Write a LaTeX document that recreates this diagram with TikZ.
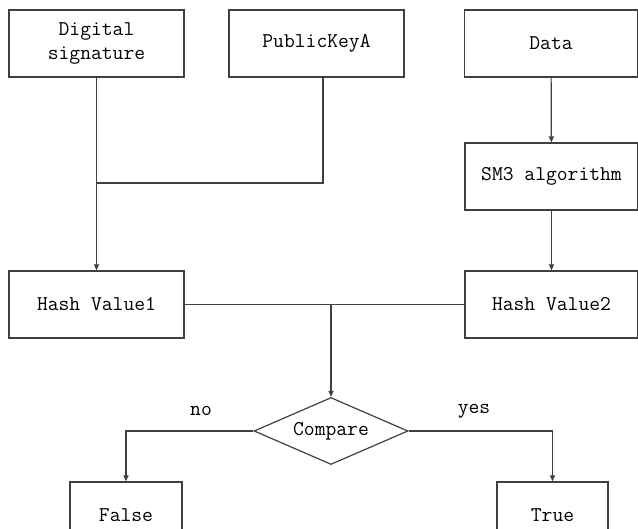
\documentclass[tikz,border=0pt]{standalone}
\usepackage{tikz}
\usetikzlibrary{shapes,arrows.meta}

\begin{document}
\begin{tikzpicture}[x=1pt,y=-1pt]
	\tikzstyle{every node}+=[inner sep=0pt,font=\fontsize{21}{24}\selectfont\ttfamily]
	\tikzstyle{box}=[draw=black!75,line width=1.2pt,minimum width=175pt,minimum height=67pt,align=center]
	\tikzstyle{decide}=[draw=black!75,line width=1.2pt,diamond,aspect=2.3,minimum width=154pt,minimum height=67pt]
	\tikzstyle{link}=[draw=black!75,line width=1.2pt]
	\tikzstyle{arrow}=[link,-{Triangle[length=6pt,width=5pt]}]
	\useasboundingbox (0,0) rectangle (638,529);
	\clip (0,0) rectangle (638,529);
	\node [box] (sig) at (96.5,43.5) {Digital\\signature};
	\node [box] (key) at (316.5,43.5) {PublicKeyA};
	\node [box,minimum width=173pt] (data) at (551,43.5) {Data};
	\node [box,minimum width=173pt] (sm3) at (551.5,176.5) {SM3 algorithm};
	\node [box] (hv1) at (96.5,304.5) {Hash Value1};
	\node [box,minimum width=173pt] (hv2) at (551.5,304.5) {Hash Value2};
	\node [decide] (cmp) at (331,431) {Compare};
	\node [box,minimum width=112pt] (false) at (126,515.5) {False};
	\node [box,minimum width=111pt] (true) at (552.5,515.5) {True};
	\node (no) at (201,411) {no};
	\node (yes) at (474,411) {yes};
	\coordinate (merge) at (96.5,183);
	\coordinate (mid) at (331,304.5);
	\draw [arrow] (sig) -- (hv1);
	\draw [link] ([xshift=6.5pt]key.south) |- (merge);
	\draw [arrow] (data) -- (sm3);
	\draw [arrow] (sm3) -- (hv2);
	\draw [link] (hv1.east) -- (hv2.west);
	\draw [arrow] (mid) -- (cmp.north);
	\draw [arrow] (cmp.west) -| (false.north);
	\draw [arrow] (cmp.east) -| (true.north);
\end{tikzpicture}
\end{document}
